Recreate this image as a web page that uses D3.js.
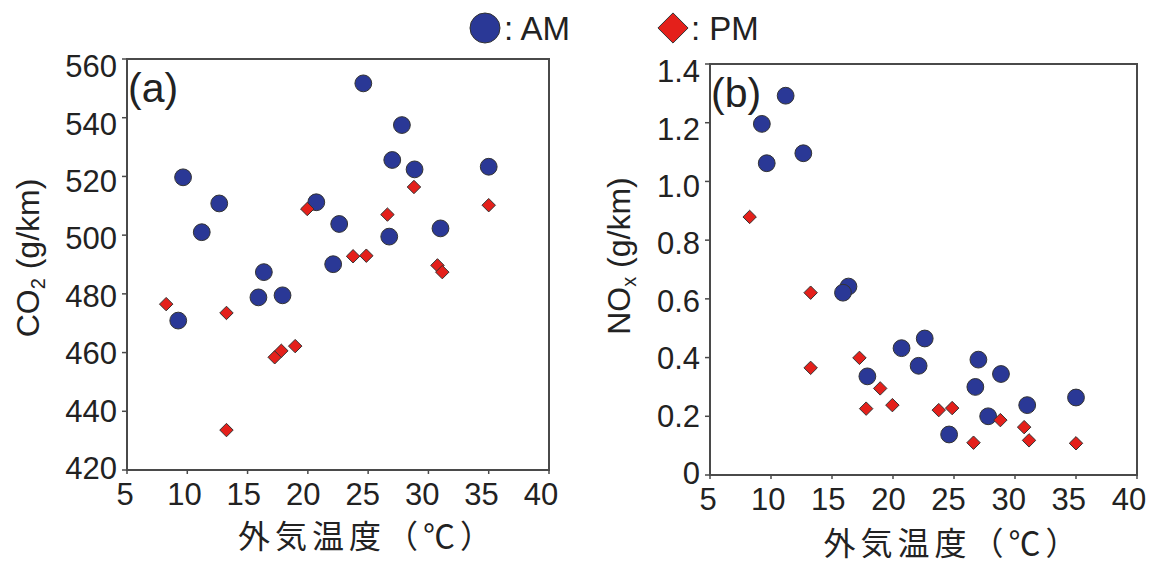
<!DOCTYPE html>
<html><head><meta charset="utf-8">
<script src="https://cdn.jsdelivr.net/npm/d3@7/dist/d3.min.js"></script>
<style>
html,body{margin:0;padding:0;background:#fff;}
svg text{font-family:"Liberation Sans",Arial,sans-serif;fill:#222;}
</style></head>
<body>
<svg id="c" width="1154" height="563"></svg>
<script>
// ---- data ----
const xTicks = [5,10,15,20,25,30,35,40];
const co2Ticks = [420,440,460,480,500,520,540,560];
const noxTicks = [0,0.2,0.4,0.6,0.8,1.0,1.2,1.4];

const amTemp = [24.6,27.8,27.0,28.85,35.0,9.65,12.65,20.7,11.2,22.6,31.0,26.75,22.1,16.35,15.9,17.9,9.25];
const amCO2  = [551.7,537.5,525.6,522.4,523.3,519.7,510.8,511.2,501.0,503.8,502.3,499.5,490.1,487.4,478.8,479.5,470.9];
const amNOx  = [0.138,0.200,0.393,0.344,0.264,1.062,1.096,0.432,1.292,0.465,0.238,0.300,0.372,0.642,0.621,0.336,1.196];

const pmTemp = [8.25,13.25,13.25,17.25,17.8,18.95,19.95,23.75,24.85,26.6,28.8,30.75,31.15,35.0];
const pmCO2  = [476.5,473.5,433.6,458.4,460.6,462.2,508.9,492.8,493.0,507.0,516.4,489.7,487.4,510.2];
const pmNOx  = [0.879,0.621,0.365,0.399,0.226,0.295,0.238,0.221,0.228,0.110,0.187,0.163,0.118,0.108];

const xTitle = "外気温度（℃）";
const legendLabels = [": AM", ": PM"];

// ---- drawing ----
const svg = d3.select("#c");
const AMC = "#2a3896", PMC = "#e4201b", AX = "#4a4a4a";
const diamond = d3.symbol().type(d3.symbolDiamond2);

function panel(o){
  const g = svg.append("g");
  const x = d3.scaleLinear().domain([5,40]).range([o.x0,o.x1]);
  const y = d3.scaleLinear().domain(o.ydom).range([o.y1,o.y0]);
  const xl = d3.scaleLinear().domain([5,40]).range([o.x0-2,o.x1-8]);
  const yl = d3.scaleLinear().domain(o.ydom).range([o.y1-2,o.y0+7]);

  g.append("rect").attr("x",o.x0).attr("y",o.y0).attr("width",o.x1-o.x0).attr("height",o.y1-o.y0)
    .attr("fill","none").attr("stroke",AX).attr("stroke-width",2);
  g.selectAll(".xt").data(xTicks).join("line")
    .attr("x1",d=>x(d)).attr("x2",d=>x(d)).attr("y1",o.y1).attr("y2",o.y1+4)
    .attr("stroke",AX).attr("stroke-width",1.5);
  g.selectAll(".xtl").data(xTicks).join("text")
    .attr("x",d=>xl(d)).attr("y",o.y1+35).attr("text-anchor","middle")
    .style("font-size","31px").text(d=>d);
  g.selectAll(".yt").data(o.yticks).join("line")
    .attr("x1",o.x0-5).attr("x2",o.x0).attr("y1",d=>y(d)).attr("y2",d=>y(d))
    .attr("stroke",AX).attr("stroke-width",1.5);
  g.selectAll(".ytl").data(o.yticks).join("text")
    .attr("x",o.x0-10).attr("y",d=>yl(d)).attr("dy","0.36em").attr("text-anchor","end")
    .style("font-size","31px").text(o.fmt);
  const t = g.append("text").attr("transform",`translate(${o.ytx},${o.yty}) rotate(-90)`)
    .attr("text-anchor","middle").style("font-size","32px");
  t.append("tspan").text(o.ytitle[0]);
  t.append("tspan").text(o.ytitle[1]).style("font-size","20px").attr("dy","6");
  t.append("tspan").text(o.ytitle[2]).attr("dy","-6");
  g.append("text").attr("x",(o.x0+o.x1)/2 - 100).attr("y",o.xty)
    .style("font-family","'Noto Sans CJK JP',sans-serif").style("font-size","32px")
    .style("letter-spacing","5px").text(xTitle);
  g.append("text").attr("x",o.x0+1).attr("y",o.y0+43).style("font-size","41px").text(o.label);
  g.selectAll(".am").data(amTemp.map((t,i)=>[t,o.am[i]])).join("circle")
    .attr("cx",d=>x(d[0])).attr("cy",d=>y(d[1])).attr("r",8.4)
    .attr("fill",AMC).attr("stroke","#333").attr("stroke-width",1);
  g.selectAll(".pm").data(pmTemp.map((t,i)=>[t,o.pm[i]])).join("path")
    .attr("d",diamond.size(115)())
    .attr("transform",d=>`translate(${x(d[0])},${y(d[1])})`)
    .attr("fill",PMC).attr("stroke","#333").attr("stroke-width",1);
}

panel({x0:127,x1:549,y0:59,y1:470,ydom:[420,560],yticks:co2Ticks,fmt:d=>d,
  am:amCO2,pm:pmCO2,ytitle:["CO","2"," (g/km)"],ytx:39,yty:258,xty:548,label:"(a)"});
panel({x0:710,x1:1137,y0:64,y1:475,ydom:[0,1.4],yticks:noxTicks,fmt:d=>d===0?"0":d.toFixed(1),
  am:amNOx,pm:pmNOx,ytitle:["NO","x"," (g/km)"],ytx:630,yty:256,xty:555,label:"(b)"});

// legend
const lg = svg.append("g");
lg.append("circle").attr("cx",485).attr("cy",28).attr("r",15)
  .attr("fill",AMC).attr("stroke","#333").attr("stroke-width",1);
lg.append("text").attr("x",504).attr("y",40).style("font-size","33px").text(legendLabels[0]);
lg.append("path").attr("d",d3.symbol().type(d3.symbolDiamond2).size(580)())
  .attr("transform","translate(673,28)")
  .attr("fill",PMC).attr("stroke","#333").attr("stroke-width",1);
lg.append("text").attr("x",691).attr("y",40).style("font-size","33px").text(legendLabels[1]);
</script>
</body></html>
